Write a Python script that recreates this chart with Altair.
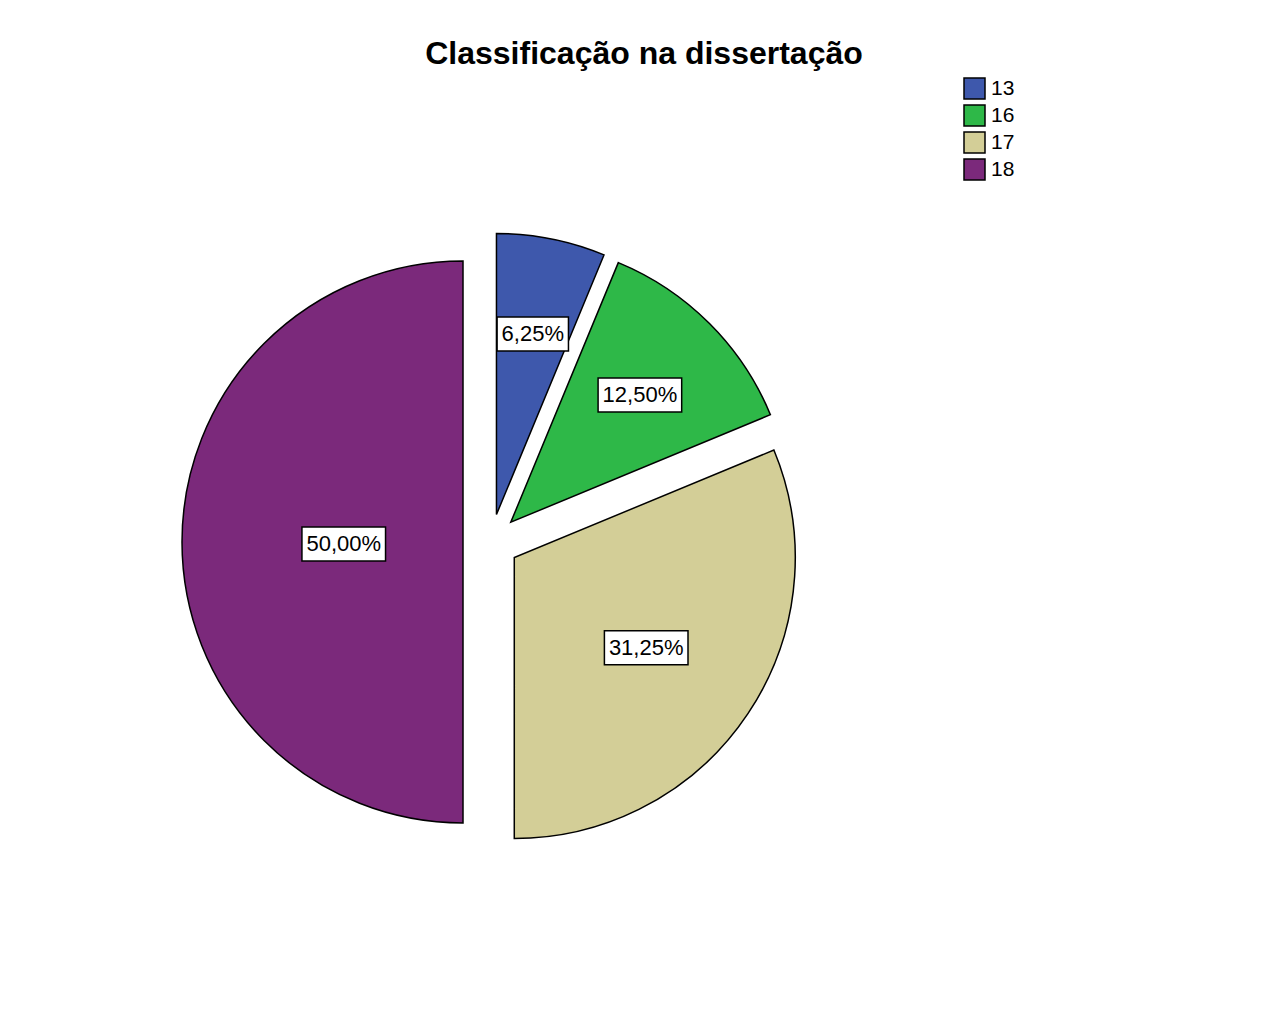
import altair as alt
import pandas as pd

# ---- data -------------------------------------------------------------
title_text = "Classificação na dissertação"
categories = ["13", "16", "17", "18"]
percents = [6.25, 12.50, 31.25, 50.00]
colors = ["#3E58AC", "#2EB848", "#D3CE97", "#7B297B"]

df = pd.DataFrame({
    "cat": categories,
    "pct": percents,
    "ord": list(range(len(categories))),
})

# ---- layout constants (pixels, relative to plot origin) -------------------
PT = 60          # top padding (room for title)
W, H = 1252, 940
CX, CY = 483, 474  # pie centre
R = 281            # pie radius
EXPLODE = 28       # slice explode distance
FS = 22            # label font size
FONT = "Liberation Sans"

base = (
    alt.Chart(df)
    .transform_window(cum="sum(pct)", sort=[alt.SortField("ord")], frame=[None, 0])
    .transform_calculate(a0="(datum.cum - datum.pct) / 100 * 2 * PI")
    .transform_calculate(a1="datum.cum / 100 * 2 * PI")
    .transform_calculate(mid="(datum.a0 + datum.a1) / 2")
    .transform_calculate(half="(datum.a1 - datum.a0) / 2")
    .transform_calculate(cx=f"{CX} + {EXPLODE} * sin(datum.mid)")
    .transform_calculate(cy=f"{CY} - {EXPLODE} * cos(datum.mid)")
    .transform_calculate(rc=f"2 * {R} * sin(datum.half) / (3 * datum.half)")
    .transform_calculate(lx="datum.cx + datum.rc * sin(datum.mid)")
    .transform_calculate(ly="datum.cy - datum.rc * cos(datum.mid) + 2")
    .transform_calculate(label="replace(format(datum.pct, '.2f'), '.', ',') + '%'")
    .transform_calculate(bw=f"((length(datum.label) - 2) * 0.556 + 1.167) * {FS} + 9")
    .transform_calculate(bx0="datum.lx - datum.bw / 2")
    .transform_calculate(bx1="datum.lx + datum.bw / 2")
    .transform_calculate(by0="datum.ly - 17")
    .transform_calculate(by1="datum.ly + 17")
)

arcs = base.mark_arc(radius=R, stroke="black", strokeWidth=1.5, strokeJoin="miter").encode(
    x=alt.X("cx:Q", scale=None, axis=None),
    y=alt.Y("cy:Q", scale=None, axis=None),
    theta=alt.Theta("a0:Q", scale=None, stack=False),
    theta2="a1:Q",
    color=alt.Color(
        "cat:N",
        scale=alt.Scale(domain=categories, range=colors),
        legend=alt.Legend(
            title=None,
            orient="none",
            legendX=955,
            legendY=9,
            padding=0,
            symbolType="square",
            symbolSize=441,
            symbolStrokeColor="black",
            symbolStrokeWidth=1.5,
            symbolOpacity=1,
            labelFont=FONT,
            labelFontSize=21,
            labelColor="black",
            labelOffset=5,
            rowPadding=0,
        ),
    ),
)

boxes = base.mark_rect(fill="white", stroke="black", strokeWidth=1.5).encode(
    x=alt.X("bx0:Q", scale=None, axis=None),
    x2="bx1:Q",
    y=alt.Y("by0:Q", scale=None, axis=None),
    y2="by1:Q",
)

texts = base.mark_text(
    font=FONT, fontSize=FS, color="black", align="center", baseline="middle"
).encode(
    x=alt.X("lx:Q", scale=None, axis=None),
    y=alt.Y("ly:Q", scale=None, axis=None),
    text="label:N",
)

chart = (
    alt.layer(arcs, boxes, texts)
    .properties(
        width=W,
        height=H,
        autosize="none",
        padding={"left": 0, "right": 0, "top": PT, "bottom": 0},
        title=alt.TitleParams(
            text=title_text,
            font=FONT,
            fontSize=32,
            fontWeight="bold",
            color="black",
            anchor="middle",
            dx=10,
            offset=-3,
        ),
    )
    .configure(
        background="white",
        view=alt.ViewConfig(stroke="transparent", strokeWidth=0),
    )
)

chart.save("out.html", embed_options={"renderer": "svg", "actions": False})
